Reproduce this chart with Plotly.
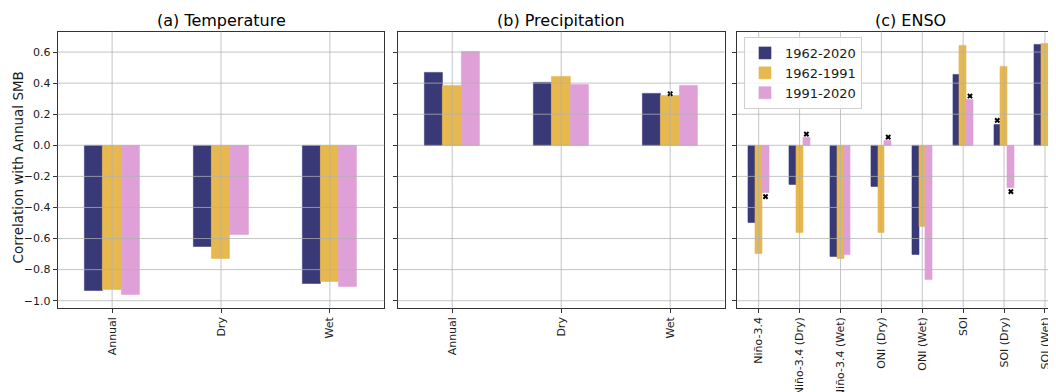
import plotly.graph_objects as go

# ---------------- data ----------------
series_names = ["1962-2020", "1962-1991", "1991-2020"]
series_colors = ["#393978", "#e6b84e", "#dea0d6"]

tp_categories = ["Annual", "Dry", "Wet"]
temp_1962_2020 = [-0.935, -0.65, -0.89]
temp_1962_1991 = [-0.93, -0.73, -0.88]
temp_1991_2020 = [-0.96, -0.575, -0.91]

precip_1962_2020 = [0.47, 0.405, 0.333]
precip_1962_1991 = [0.385, 0.44, 0.32]
precip_1991_2020 = [0.60, 0.39, 0.385]

enso_categories = ["Niño-3.4", "Niño-3.4 (Dry)", "Niño-3.4 (Wet)", "ONI (Dry)",
                   "ONI (Wet)", "SOI", "SOI (Dry)", "SOI (Wet)"]
enso_1962_2020 = [-0.497, -0.256, -0.72, -0.265, -0.705, 0.455, 0.135, 0.647]
enso_1962_1991 = [-0.70, -0.56, -0.73, -0.56, -0.525, 0.64, 0.505, 0.653]
enso_1991_2020 = [-0.305, 0.047, -0.705, 0.028, -0.865, 0.292, -0.273, 0.653]

# significance flags: (category index, series index)
sig_temp = []
sig_precip = [(2, 1)]
sig_enso = [(0, 2), (1, 2), (3, 2), (5, 2), (6, 0), (6, 2)]

y_ticks = [-1.0, -0.8, -0.6, -0.4, -0.2, 0.0, 0.2, 0.4, 0.6]

panels = [
    dict(title="(a) Temperature", cats=tp_categories,
         vals=[temp_1962_2020, temp_1962_1991, temp_1991_2020], sig=sig_temp, sig_off=0.025),
    dict(title="(b) Precipitation", cats=tp_categories,
         vals=[precip_1962_2020, precip_1962_1991, precip_1991_2020], sig=sig_precip, sig_off=0.012),
    dict(title="(c) ENSO", cats=enso_categories,
         vals=[enso_1962_2020, enso_1962_1991, enso_1991_2020], sig=sig_enso, sig_off=0.025),
]

# ---------------- layout geometry ----------------
# The page places the figure 8 px from its top-left corner (default body margin),
# so the figure is 8 px smaller and all page positions are shifted by -8 px.
PAGE_W, PAGE_H = 1056, 392
OFF = 8
W, H = PAGE_W - OFF, PAGE_H - OFF


def px_x(p):
    return (p - OFF) / W


def px_y(p):
    return (H - (p - OFF)) / H


x_domains_px = [(57.7, 384.3), (397.7, 724.7), (737.3, 1056.0)]
x_ranges = [(-0.5, 2.5), (-0.5, 2.5), (-0.523, 7.27)]
title_x_px = [221, 561, 910]
y_dom = [px_y(307.7), px_y(31.7)]
y_range = [-1.045, 0.731]

bar_w = 0.5 / 3
FONT = "DejaVu Sans"
TXT = "#1a1a1a"
FRAME = "#333333"
GRID = "rgba(176,176,176,0.75)"

fig = go.Figure()
shapes = []
annotations = []

for p_i, p in enumerate(panels):
    n = p_i + 1
    xa = "x" if n == 1 else f"x{n}"
    ya = "y" if n == 1 else f"y{n}"
    idx = list(range(len(p["cats"])))
    for s_i, vals in enumerate(p["vals"]):
        fig.add_trace(go.Bar(
            x=idx, y=vals, width=bar_w, offset=(s_i - 1.5) * bar_w,
            marker=dict(color=series_colors[s_i], line=dict(width=0.6, color=series_colors[s_i])),
            name=series_names[s_i], showlegend=(n == 3), legendgroup=series_names[s_i],
            xaxis=xa, yaxis=ya,
        ))
    # significance markers
    if p["sig"]:
        mx, my = [], []
        for (c_i, s_i) in p["sig"]:
            v = p["vals"][s_i][c_i]
            mx.append(c_i + (s_i - 1) * bar_w)
            my.append(v + (p["sig_off"] if v >= 0 else -p["sig_off"]))
        fig.add_trace(go.Scatter(
            x=mx, y=my, mode="markers", showlegend=False,
            marker=dict(symbol="x", size=5, color="black", line=dict(width=0)),
            xaxis=xa, yaxis=ya, cliponaxis=False,
        ))

    d0, d1 = x_domains_px[p_i]
    fig.update_layout(**{
        ("xaxis" if n == 1 else f"xaxis{n}"): dict(
            domain=[px_x(d0), min(1.0, px_x(d1))], range=list(x_ranges[p_i]), anchor=ya,
            tickvals=idx, ticktext=p["cats"], tickangle=-90,
            showgrid=False, zeroline=False, showline=True, mirror=True,
            linecolor=FRAME, linewidth=1, ticks="outside", ticklen=4,
            tickcolor=FRAME, tickfont=dict(family=FONT, size=11, color=TXT),
            automargin=False, fixedrange=True,
        ),
        ("yaxis" if n == 1 else f"yaxis{n}"): dict(
            domain=y_dom, range=y_range, anchor=xa,
            tickvals=y_ticks, tickformat=".1f", showticklabels=(n == 1),
            showgrid=False, zeroline=False, showline=True, mirror=(n != 3),
            linecolor=FRAME, linewidth=1, ticks="outside", ticklen=4,
            tickcolor=FRAME, tickfont=dict(family=FONT, size=11, color=TXT),
            automargin=False, fixedrange=True,
        ),
    })

    # grid lines drawn above bars (as in the reference)
    for yt in y_ticks:
        shapes.append(dict(type="line", xref=f"{xa} domain", yref=ya,
                           x0=0, x1=1, y0=yt, y1=yt, layer="above",
                           line=dict(color=GRID, width=1)))
    for c_i in idx:
        shapes.append(dict(type="line", xref=xa, yref=f"{ya} domain",
                           x0=c_i, x1=c_i, y0=0, y1=1, layer="above",
                           line=dict(color=GRID, width=1)))

    annotations.append(dict(text=p["title"], x=px_x(title_x_px[p_i]), y=px_y(20),
                            xref="paper", yref="paper", showarrow=False,
                            xanchor="center", yanchor="middle",
                            font=dict(family=FONT, size=16, color="black")))

annotations.append(dict(text="Correlation with Annual SMB", x=px_x(17.5), y=px_y(168),
                        xref="paper", yref="paper", showarrow=False, textangle=-90,
                        xanchor="center", yanchor="middle",
                        font=dict(family=FONT, size=13.5, color=TXT)))

fig.update_layout(
    width=W, height=H, margin=dict(l=0, r=0, t=0, b=0),
    paper_bgcolor="white", plot_bgcolor="white",
    barmode="overlay", bargap=0,
    shapes=shapes, annotations=annotations,
    legend=dict(x=px_x(744), y=px_y(37), xanchor="left", yanchor="top",
                bgcolor="rgba(255,255,255,0.85)", bordercolor="#d0d0d0", borderwidth=1,
                font=dict(family=FONT, size=13, color=TXT), tracegroupgap=0,
                itemwidth=30),
    font=dict(family=FONT),
)

fig.write_html("out.html")
